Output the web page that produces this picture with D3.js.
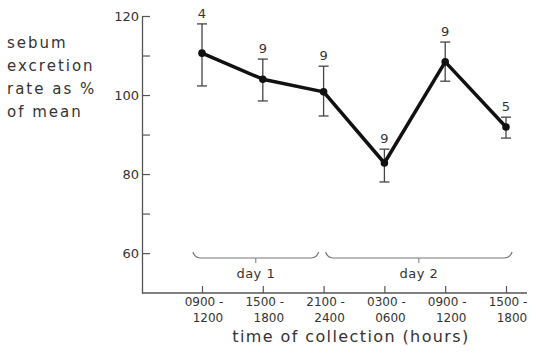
<!DOCTYPE html>
<html>
<head>
<meta charset="utf-8">
<script src="https://cdn.jsdelivr.net/npm/d3@7"></script>
<style>
  body { margin: 0; background: #fff; }
  svg { display: block; }
  text { font-family: "DejaVu Sans", sans-serif; fill: #333; }
</style>
</head>
<body>
<svg width="539" height="358"></svg>
<script>
// collection periods (two lines per tick label)
var periods = ['0900-1200', '1500-1800', '2100-2400', '0300-0600', '0900-1200b', '1500-1800b']
var tickTop = ['0900 -', '1500 -', '2100 -', '0300 -', '0900 -', '1500 -']
var tickBottom = ['1200', '1800', '2400', '0600', '1200', '1800']

// sebum excretion rate as % of mean
var means = [110.6, 104, 100.8, 82.8, 108.4, 91.9]
var upper = [118, 109.1, 107.3, 86.3, 113.4, 94.4]
var lower = [102.3, 98.5, 94.7, 78, 103.5, 89.1]
var counts = [4, 9, 9, 9, 9, 5]

var yTicks = [60, 70, 80, 90, 100, 110, 120]

// day brackets: first and last period covered
var days = [
  { label: 'day 1', from: 0, to: 2 },
  { label: 'day 2', from: 3, to: 5 }
]

var svg = d3.select('svg')

var x = d3.scalePoint().domain(periods).range([202, 506])
var y = d3.scaleLinear().domain([49.9, 120]).range([293, 16])

var axisX = 142, axisY = 293

// y axis, ticks pointing right
var yAxis = svg.append('g')
  .attr('transform', 'translate(' + axisX + ',0)')
  .call(d3.axisLeft(y)
    .tickValues(yTicks)
    .tickSizeInner(-8)
    .tickSizeOuter(0)
    .tickPadding(3)
    .tickFormat(function(d) { return d % 20 === 0 ? d : '' }))
yAxis.select('.domain').attr('stroke', '#555').attr('stroke-width', 1.3)
yAxis.selectAll('.tick line').attr('stroke', '#555').attr('stroke-width', 1.2)
yAxis.selectAll('.tick text')
  .attr('font-size', 13)
  .attr('font-family', '"DejaVu Sans", sans-serif')
  .attr('fill', '#444')

// x axis line, running a bit past the last tick
svg.append('line')
  .attr('x1', axisX).attr('x2', 527)
  .attr('y1', axisY).attr('y2', axisY)
  .attr('stroke', '#555').attr('stroke-width', 1.3)

var xAxis = svg.append('g')
  .attr('transform', 'translate(0,' + axisY + ')')
  .call(d3.axisBottom(x).tickSizeInner(-7).tickSizeOuter(0).tickFormat(''))
xAxis.select('.domain').remove()
xAxis.selectAll('.tick line').attr('stroke', '#555').attr('stroke-width', 1.2)

// two-line tick labels
var labels = svg.append('g').selectAll('g')
  .data(periods)
  .enter()
  .append('g')
labels.append('text')
  .attr('x', function(d) { return x(d) + 2 })
  .attr('y', 306)
  .attr('text-anchor', 'middle')
  .attr('font-size', 12)
  .text(function(d, i) { return tickTop[i] })
labels.append('text')
  .attr('x', function(d) { return x(d) + 6 })
  .attr('y', 322)
  .attr('text-anchor', 'middle')
  .attr('font-size', 12)
  .text(function(d, i) { return tickBottom[i] })

svg.append('text')
  .attr('x', 351)
  .attr('y', 342)
  .attr('text-anchor', 'middle')
  .attr('font-size', 16)
  .attr('letter-spacing', 1.4)
  .text('time of collection (hours)')

// y axis title
var yTitle = ['sebum', 'excretion', 'rate as %', 'of mean']
svg.append('g').selectAll('text')
  .data(yTitle)
  .enter()
  .append('text')
  .attr('x', 7)
  .attr('y', function(d, i) { return 48 + i * 23 })
  .attr('font-size', 15)
  .attr('letter-spacing', 2)
  .text(function(d) { return d })

// day brackets (ends given as a fraction of the category step)
var step = x.step()
var bracketY = 258
var bracketEnds = [[-0.15, -0.08], [-1, 0.1]]
days.forEach(function(day, k) {
  var x0 = x(periods[day.from]) + step * bracketEnds[k][0]
  var x1 = x(periods[day.to]) + step * bracketEnds[k][1]
  if (k > 0) x0 = x(periods[day.from - 1]) + 2
  var mid = (x0 + x1) / 2
  var p = d3.path()
  p.moveTo(x0, bracketY - 6)
  p.quadraticCurveTo(x0 + 2, bracketY, x0 + 8, bracketY)
  p.lineTo(x1 - 8, bracketY)
  p.quadraticCurveTo(x1 - 2, bracketY, x1, bracketY - 6)
  svg.append('path')
    .attr('d', p.toString())
    .attr('fill', 'none')
    .attr('stroke', '#777')
    .attr('stroke-width', 1.2)
  svg.append('line')
    .attr('x1', mid).attr('x2', mid)
    .attr('y1', bracketY).attr('y2', bracketY + 5)
    .attr('stroke', '#777').attr('stroke-width', 1)
  svg.append('text')
    .attr('x', mid)
    .attr('y', 278)
    .attr('text-anchor', 'middle')
    .attr('font-size', 13)
    .attr('letter-spacing', 0.5)
    .text(day.label)
})

// error bars
var bars = svg.append('g').selectAll('g')
  .data(periods)
  .enter()
  .append('g')
  .attr('stroke', '#444')
  .attr('stroke-width', 1.3)
bars.append('line')
  .attr('x1', function(d) { return x(d) })
  .attr('x2', function(d) { return x(d) })
  .attr('y1', function(d, i) { return y(upper[i]) })
  .attr('y2', function(d, i) { return y(lower[i]) })
bars.append('line')
  .attr('x1', function(d) { return x(d) - 5 })
  .attr('x2', function(d) { return x(d) + 5 })
  .attr('y1', function(d, i) { return y(upper[i]) })
  .attr('y2', function(d, i) { return y(upper[i]) })
bars.append('line')
  .attr('x1', function(d) { return x(d) - 5 })
  .attr('x2', function(d) { return x(d) + 5 })
  .attr('y1', function(d, i) { return y(lower[i]) })
  .attr('y2', function(d, i) { return y(lower[i]) })

// mean line
var line = d3.line()
  .x(function(d, i) { return x(periods[i]) })
  .y(function(d) { return y(d) })
svg.append('path')
  .datum(means)
  .attr('d', line)
  .attr('fill', 'none')
  .attr('stroke', '#111')
  .attr('stroke-width', 3.5)
  .attr('stroke-linejoin', 'round')

svg.append('g').selectAll('circle')
  .data(means)
  .enter()
  .append('circle')
  .attr('cx', function(d, i) { return x(periods[i]) })
  .attr('cy', function(d) { return y(d) })
  .attr('r', 3.8)
  .attr('fill', '#111')

// number of subjects above each bar
svg.append('g').selectAll('text')
  .data(counts)
  .enter()
  .append('text')
  .attr('x', function(d, i) { return x(periods[i]) })
  .attr('y', function(d, i) { return y(upper[i]) - 6 })
  .attr('text-anchor', 'middle')
  .attr('font-size', 13)
  .text(function(d) { return d })
</script>
</body>
</html>
